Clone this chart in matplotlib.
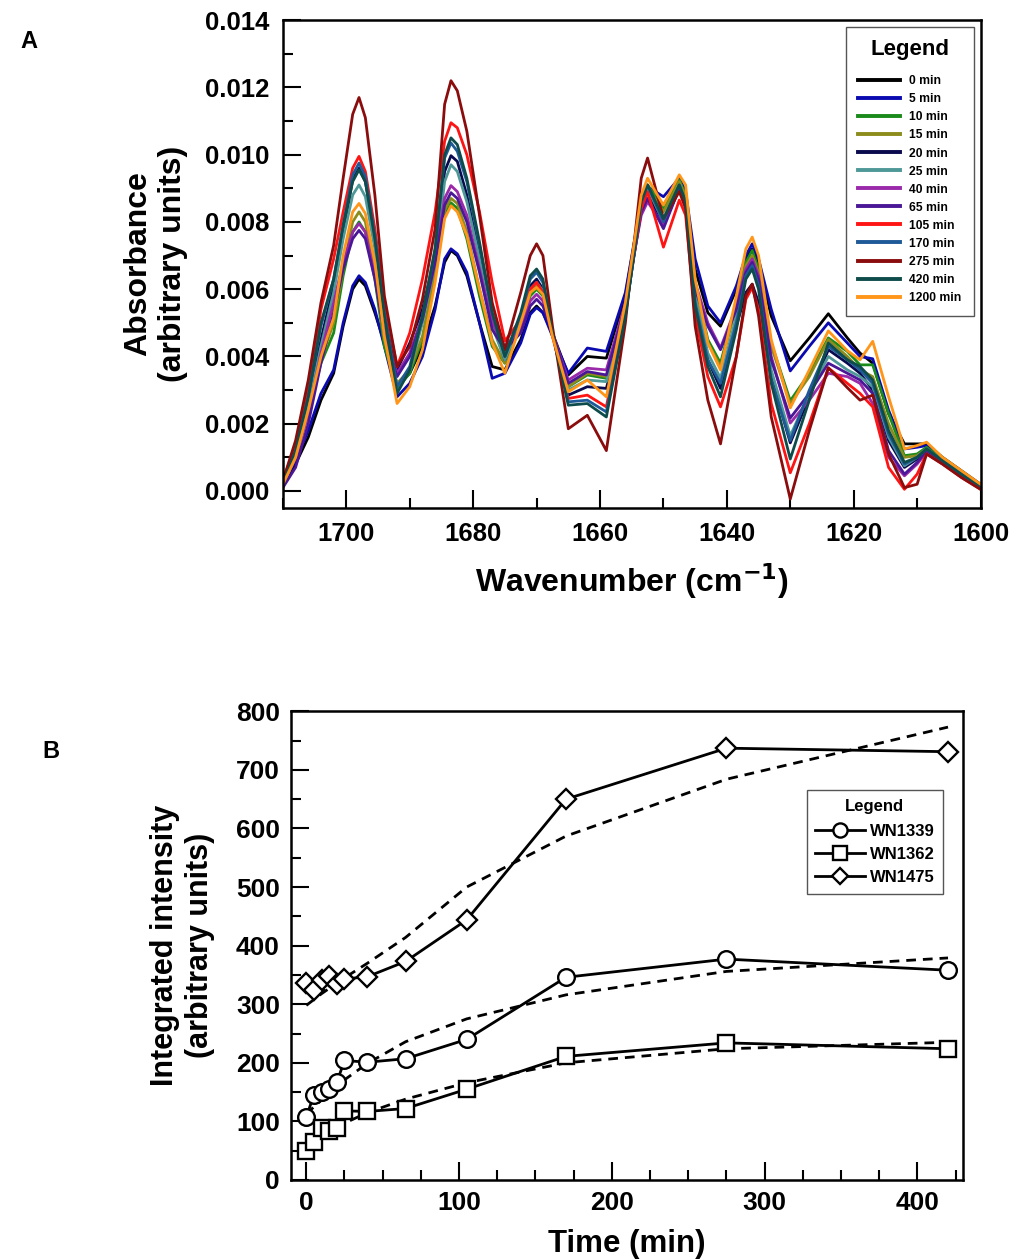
import numpy as np
import matplotlib
matplotlib.use("Agg")
import matplotlib.pyplot as plt
from matplotlib.ticker import MultipleLocator, FormatStrFormatter

plt.rcParams['font.family'] = ['Liberation Sans', 'DejaVu Sans']
plt.rcParams['font.weight'] = 'bold'

# ---- Panel A: FTIR spectra (absorbance x 1e-3) ----
wavenumber = [1710, 1708, 1706, 1704, 1702, 1700.5, 1699, 1698, 1697, 1695.5,
              1694, 1692, 1690, 1688, 1686, 1684.5, 1683.5, 1682.5, 1681, 1679,
              1677, 1675, 1672.5, 1671, 1670, 1669, 1667.5, 1665, 1662, 1659,
              1656, 1653.5, 1652.5, 1650, 1647.5, 1646.5, 1645, 1643, 1641, 1638.5,
              1637, 1636, 1635, 1633, 1630, 1627, 1624, 1621, 1619, 1617,
              1614.5, 1612, 1610, 1608.5, 1606, 1603, 1600]

time_labels = ["0 min", "5 min", "10 min", "15 min", "20 min", "25 min", "40 min",
               "65 min", "105 min", "170 min", "275 min", "420 min", "1200 min"]
colors = ["#000000", "#0a0ab0", "#1a8a1a", "#8c8c1c", "#0a0a4e", "#4f9898",
          "#9a2aaa", "#4a1896", "#ff1414", "#1f5a98", "#8a0c0c", "#0e4c4c", "#ff961a"]

abs_0 = [0.2, 0.8, 1.6, 2.7, 3.5, 4.9, 6.0, 6.3, 6.1, 5.3,
         4.4, 3.1, 3.5, 4.3, 5.5, 6.8, 7.15, 7.0, 6.4, 5.0,
         3.7, 3.6, 4.5, 5.3, 5.5, 5.3, 4.7, 3.45, 4.0, 3.95,
         5.8, 8.6, 9.0, 8.5, 9.2, 8.6, 6.6, 5.3, 4.9, 6.0,
         6.9, 7.2, 6.8, 5.2, 3.87, 4.55, 5.27, 4.55, 4.1, 3.8,
         2.3, 1.4, 1.4, 1.4, 1.0, 0.6, 0.2]
abs_5 = [0.2, 0.9, 1.8, 2.9, 3.6, 5.0, 6.1, 6.4, 6.2, 5.4,
         4.3, 2.8, 3.2, 4.0, 5.4, 6.9, 7.2, 7.05, 6.5, 5.0,
         3.35, 3.5, 4.4, 5.25, 5.45, 5.3, 4.6, 3.5, 4.25, 4.15,
         5.9, 8.6, 9.05, 8.75, 9.3, 8.9, 6.9, 5.5, 5.0, 6.1,
         7.0, 7.35, 6.9, 5.4, 3.57, 4.3, 5.0, 4.4, 4.0, 3.93,
         2.4, 1.25, 1.3, 1.35, 0.95, 0.55, 0.15]
abs_10 = [0.2, 1.0, 2.3, 3.8, 4.7, 6.4, 7.7, 8.0, 7.7, 6.3,
          4.3, 3.05, 3.5, 4.5, 6.4, 8.2, 8.57, 8.4, 7.5, 5.8,
          4.3, 3.8, 4.9, 5.8, 6.0, 5.8, 4.65, 3.1, 3.45, 3.35,
          5.5, 8.6, 9.1, 8.4, 9.25, 8.8, 6.2, 4.5, 3.8, 5.6,
          6.8, 7.15, 6.6, 4.4, 2.68, 3.5, 4.55, 4.15, 3.75, 3.75,
          2.3, 1.05, 1.1, 1.3, 0.95, 0.55, 0.15]
abs_15 = [0.2, 1.0, 2.4, 3.9, 5.0, 6.6, 8.0, 8.3, 8.0, 6.5,
          4.5, 3.2, 3.6, 4.6, 6.5, 8.35, 8.7, 8.55, 7.7, 6.0,
          4.5, 3.8, 4.9, 5.9, 6.1, 5.9, 4.7, 3.1, 3.5, 3.4,
          5.4, 8.5, 9.0, 8.3, 9.2, 8.75, 6.1, 4.4, 3.7, 5.5,
          6.7, 7.0, 6.5, 4.3, 2.6, 3.4, 4.5, 4.0, 3.6, 3.4,
          2.0, 1.0, 1.05, 1.25, 0.9, 0.5, 0.15]
abs_20 = [0.2, 1.1, 2.6, 4.5, 6.1, 7.7, 9.25, 9.6, 9.2, 7.6,
          5.3, 3.6, 4.4, 5.4, 7.0, 9.5, 9.97, 9.8, 8.8, 7.0,
          5.0, 3.9, 5.1, 6.1, 6.3, 6.0, 4.7, 2.85, 3.1, 3.05,
          5.3, 8.4, 8.9, 7.9, 9.0, 8.5, 5.6, 3.9, 3.05, 4.9,
          5.9, 6.15, 5.6, 3.4, 1.43, 2.8, 4.2, 3.8, 3.5, 3.0,
          1.5, 0.7, 0.95, 1.2, 0.9, 0.5, 0.15]
abs_25 = [0.2, 1.1, 2.5, 4.3, 5.9, 7.5, 8.8, 9.1, 8.75, 7.2,
          5.0, 3.1, 3.6, 5.0, 6.8, 9.2, 9.7, 9.5, 8.6, 6.9,
          4.9, 3.9, 5.0, 6.0, 6.2, 5.95, 4.7, 3.0, 3.3, 3.25,
          5.3, 8.5, 9.0, 8.0, 9.1, 8.6, 5.8, 4.1, 3.35, 5.2,
          6.5, 6.8, 6.2, 3.6, 1.64, 2.9, 4.0, 3.6, 3.4, 3.1,
          1.6, 0.75, 1.0, 1.25, 0.9, 0.5, 0.15]
abs_40 = [0.2, 1.0, 2.3, 4.1, 5.6, 6.8, 7.7, 7.95, 7.7, 6.4,
          4.7, 3.5, 4.1, 5.2, 7.0, 8.7, 9.08, 8.9, 8.2, 6.6,
          5.0, 4.3, 4.8, 5.65, 5.85, 5.65, 4.7, 3.3, 3.65, 3.6,
          5.6, 8.2, 8.6, 7.9, 9.0, 8.6, 6.2, 5.0, 4.25, 5.5,
          6.6, 6.9, 6.4, 4.0, 2.02, 2.7, 3.5, 3.4, 3.2, 2.6,
          1.0, 0.45, 0.8, 1.15, 0.85, 0.45, 0.1]
abs_65 = [0.1, 0.7, 2.0, 3.8, 5.3, 6.6, 7.5, 7.75, 7.5, 6.3,
          4.7, 3.4, 4.0, 5.1, 6.8, 8.5, 8.87, 8.7, 8.0, 6.5,
          4.8, 4.2, 4.7, 5.5, 5.7, 5.5, 4.7, 3.2, 3.55, 3.45,
          5.5, 8.3, 8.7, 7.8, 9.0, 8.55, 6.0, 4.9, 4.2, 5.4,
          6.5, 6.8, 6.3, 3.9, 2.17, 2.9, 3.8, 3.5, 3.3, 2.9,
          1.2, 0.5, 0.85, 1.2, 0.85, 0.45, 0.1]
abs_105 = [0.3, 1.4, 3.0, 5.4, 6.9, 8.3, 9.6, 9.95, 9.5, 7.8,
           5.6, 3.7, 4.7, 6.3, 8.3, 10.4, 10.95, 10.8, 10.0, 8.3,
           6.2, 4.46, 5.1, 6.0, 6.2, 5.9, 4.6, 2.75, 2.85, 2.5,
           5.4, 8.4, 8.9, 7.25, 8.65, 8.2, 5.2, 3.4, 2.5, 4.0,
           5.7, 6.05, 5.4, 2.6, 0.54, 2.0, 3.66, 3.2, 2.9, 2.5,
           0.7, 0.05, 0.5, 1.1, 0.8, 0.4, 0.05]
abs_170 = [0.2, 1.2, 2.8, 4.9, 6.3, 7.9, 9.4, 9.75, 9.35, 7.6,
           5.3, 3.1, 3.7, 5.2, 7.2, 9.9, 10.35, 10.1, 9.2, 7.3,
           5.3, 4.0, 5.2, 6.3, 6.5, 6.2, 4.7, 2.65, 2.7, 2.35,
           5.2, 8.6, 9.1, 8.0, 9.1, 8.6, 5.6, 3.9, 3.2, 5.0,
           6.4, 6.7, 6.1, 3.3, 1.5, 3.0, 4.3, 3.9, 3.6, 3.2,
           1.7, 0.8, 1.0, 1.25, 0.9, 0.5, 0.15]
abs_275 = [0.3, 1.5, 3.3, 5.6, 7.3, 9.3, 11.2, 11.7, 11.1, 8.8,
           5.8, 3.7, 4.3, 5.7, 7.8, 11.5, 12.2, 11.9, 10.7, 8.2,
           5.6, 4.2, 5.9, 7.0, 7.35, 7.0, 4.9, 1.85, 2.25, 1.2,
           5.0, 9.3, 9.9, 8.1, 8.9, 8.4, 4.9, 2.7, 1.4, 4.0,
           5.8, 6.15, 5.2, 2.2, -0.24, 1.8, 3.66, 3.07, 2.7, 2.85,
           1.1, 0.1, 0.2, 1.1, 0.8, 0.4, 0.05]
abs_420 = [0.2, 1.2, 2.8, 5.0, 6.3, 7.9, 9.2, 9.55, 9.2, 7.5,
           5.2, 2.9, 3.6, 5.2, 7.2, 10.0, 10.5, 10.3, 9.3, 7.4,
           5.3, 4.0, 5.3, 6.4, 6.6, 6.3, 4.7, 2.55, 2.6, 2.2,
           5.2, 8.6, 9.1, 8.1, 9.1, 8.6, 5.5, 3.7, 2.8, 4.8,
           6.3, 6.6, 6.0, 3.2, 0.95, 2.7, 4.4, 3.9, 3.7, 3.3,
           1.8, 0.85, 1.0, 1.25, 0.9, 0.5, 0.15]
abs_1200 = [0.2, 1.0, 2.4, 4.0, 5.15, 7.0, 8.3, 8.55, 8.25, 6.8,
            4.6, 2.6, 3.1, 4.2, 6.2, 8.1, 8.48, 8.3, 7.6, 6.0,
            4.4, 3.5, 5.0, 5.9, 6.05, 5.85, 4.6, 2.95, 3.3, 2.8,
            5.6, 8.8, 9.3, 8.5, 9.4, 9.1, 6.3, 4.4, 3.6, 5.8,
            7.2, 7.55, 7.0, 4.5, 2.47, 3.6, 4.76, 4.17, 3.9, 4.45,
            2.8, 1.25, 1.35, 1.45, 1.0, 0.6, 0.2]

spectra = [abs_0, abs_5, abs_10, abs_15, abs_20, abs_25, abs_40,
           abs_65, abs_105, abs_170, abs_275, abs_420, abs_1200]

# ---- Panel B: integrated intensities ----
time_min = [0, 5, 10, 15, 20, 25, 40, 65, 105, 170, 275, 420]
wn1339 = [108, 145, 151, 155, 167, 204, 201, 207, 240, 346, 377, 358]
wn1362 = [50, 65, 88, 84, 88, 118, 117, 122, 155, 211, 234, 224]
wn1475 = [337, 324, 341, 349, 335, 343, 347, 373, 444, 650, 737, 731]
fit1339 = [112, 125, 137, 149, 160, 171, 199, 236, 275, 316, 356, 379]
fit1362 = [60, 68, 76, 83, 90, 97, 115, 138, 166, 200, 224, 235]
fit1475 = [298, 308, 318, 327, 336, 345, 370, 414, 500, 587, 684, 773]

fig = plt.figure(figsize=(10.14, 12.6), dpi=100)

# Panel A
axA = fig.add_axes([0.279, 0.597, 0.688, 0.387])
wn = np.array(wavenumber)
for vals, c, lab in zip(spectra, colors, time_labels):
    axA.plot(wn, np.array(vals) * 1e-3, color=c, lw=2.0, label=lab,
             solid_joinstyle='round')
axA.set_xlim(1710, 1600)
axA.set_ylim(-0.0005, 0.014)
axA.xaxis.set_major_locator(MultipleLocator(20))
axA.xaxis.set_minor_locator(MultipleLocator(10))
axA.yaxis.set_major_locator(MultipleLocator(0.002))
axA.yaxis.set_minor_locator(MultipleLocator(0.001))
axA.yaxis.set_major_formatter(FormatStrFormatter('%.3f'))
axA.tick_params(which='major', direction='in', length=13, width=1.5, labelsize=18.5, pad=10)
axA.tick_params(which='minor', direction='in', length=7, width=1.5)
for sp in axA.spines.values():
    sp.set_linewidth(1.8)
axA.set_xlabel("Wavenumber (cm$^{\\mathbf{-1}}$)", fontsize=23, fontweight='bold', labelpad=11)
axA.set_ylabel("Absorbance\n(arbitrary units)", fontsize=23, fontweight='bold', labelpad=12)
legA = axA.legend(loc='upper right', bbox_to_anchor=(0.99, 0.986), title="Legend",
                  prop={'size': 8.7, 'weight': 'bold'}, handlelength=3.4,
                  handletextpad=0.8, labelspacing=0.5, borderpad=1.0,
                  fancybox=False, edgecolor='#555555', framealpha=1, borderaxespad=0)
legA.get_title().set_fontsize(16)
legA.get_title().set_fontweight('bold')
legA.get_frame().set_linewidth(1.0)
legA._legend_box.sep = 11
for h in legA.get_lines():
    h.set_linewidth(2.8)

# Panel B
axB = fig.add_axes([0.287, 0.0635, 0.663, 0.372])
for vals, fit, mk, lab in [(wn1339, fit1339, 'o', 'WN1339'),
                           (wn1362, fit1362, 's', 'WN1362'),
                           (wn1475, fit1475, 'D', 'WN1475')]:
    axB.plot(time_min, fit, color='black', lw=2.0, ls=(0, (3.5, 2.5)))
    ms = 10 if mk == 'D' else 12
    axB.plot(time_min, vals, color='black', lw=2.0, marker=mk, markersize=ms,
             markerfacecolor='white', markeredgewidth=1.7, label=lab)
axB.set_xlim(-10, 430)
axB.set_ylim(0, 800)
axB.xaxis.set_major_locator(MultipleLocator(100))
axB.xaxis.set_minor_locator(MultipleLocator(25))
axB.yaxis.set_major_locator(MultipleLocator(100))
axB.yaxis.set_minor_locator(MultipleLocator(50))
axB.tick_params(which='major', direction='in', length=13, width=1.5, labelsize=19, pad=8)
axB.tick_params(which='minor', direction='in', length=7, width=1.5)
for sp in axB.spines.values():
    sp.set_linewidth(1.8)
axB.set_xlabel("Time (min)", fontsize=22.5, fontweight='bold', labelpad=10)
axB.set_ylabel("Integrated intensity\n(arbitrary units)", fontsize=22, fontweight='bold', labelpad=15)
legB = axB.legend(loc='upper right', bbox_to_anchor=(0.97, 0.831), title="Legend",
                  prop={'size': 12, 'weight': 'bold'}, handlelength=3.0,
                  labelspacing=0.5, borderpad=0.5, fancybox=False, edgecolor='#555555',
                  framealpha=1, borderaxespad=0, handletextpad=0.3, markerscale=0.85)
legB.get_title().set_fontsize(12)
legB.get_frame().set_linewidth(1.0)
legB._legend_box.sep = 7

fig.text(20 / 1014, 1 - 42 / 1260, "A", fontsize=17, fontweight='bold', va='center')
fig.text(42 / 1014, 1 - 752 / 1260, "B", fontsize=17, fontweight='bold', va='center')

fig.savefig("out.png", dpi=100)
